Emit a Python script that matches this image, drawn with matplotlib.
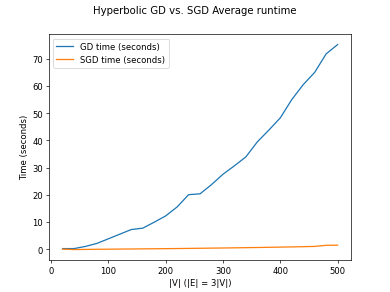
import matplotlib
matplotlib.use("Agg")
import matplotlib.pyplot as plt

n_vertices = [20, 40, 60, 80, 100, 120, 140, 160, 180, 200, 220, 240, 260,
              280, 300, 320, 340, 360, 380, 400, 420, 440, 460, 480, 500]
gd_time = [0.3, 0.3, 1.1, 2.2, 3.9, 5.6, 7.3, 7.8, 10.0, 12.3, 15.6, 20.1, 20.4,
           23.8, 27.6, 30.7, 34.0, 39.5, 43.8, 48.3, 55.0, 60.5, 65.0, 71.8, 75.2]
sgd_time = [0.1, -0.05, 0.0, 0.05, 0.08, 0.12, 0.16, 0.2, 0.24, 0.28, 0.32, 0.37, 0.42,
            0.47, 0.52, 0.58, 0.64, 0.70, 0.77, 0.84, 0.92, 1.0, 1.1, 1.5, 1.55]

fig, ax = plt.subplots(figsize=(6.4, 4.8), dpi=61)
ax.plot(n_vertices, gd_time, label="GD time (seconds)")
ax.plot(n_vertices, sgd_time, label="SGD time (seconds)")
ax.set_xlabel("|V| (|E| = 3|V|)")
ax.set_ylabel("Time (seconds)")
fig.suptitle("Hyperbolic GD vs. SGD Average runtime")
ax.legend(loc="upper left")
fig.savefig("out.png", dpi=61)
